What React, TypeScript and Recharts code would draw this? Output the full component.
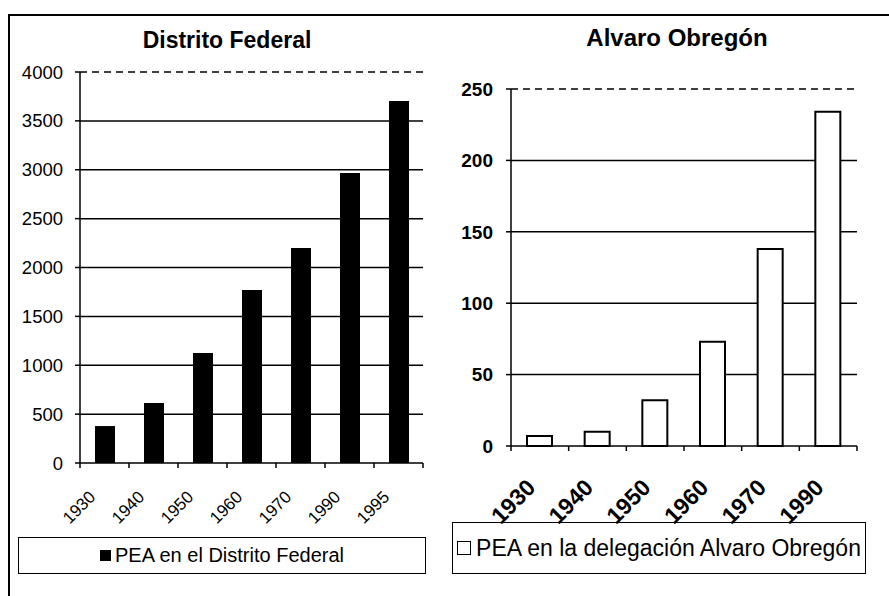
import React from "react";
import {
  BarChart,
  Bar,
  XAxis,
  YAxis,
  CartesianGrid,
  ReferenceLine,
} from "recharts";

// Distrito Federal
const dfYears = ["1930", "1940", "1950", "1960", "1970", "1990", "1995"];
const dfPea = [378, 614, 1125, 1770, 2200, 2967, 3703];
const dfTicks = [0, 500, 1000, 1500, 2000, 2500, 3000, 3500, 4000];

// Alvaro Obregón
const aoYears = ["1930", "1940", "1950", "1960", "1970", "1990"];
const aoPea = [7, 10, 32, 73, 138, 234];
const aoTicks = [0, 50, 100, 150, 200, 250];

const dfData = dfYears.map((year, i) => ({ year, pea: dfPea[i] }));
const aoData = aoYears.map((year, i) => ({ year, pea: aoPea[i] }));

const FONT = "'Liberation Sans', Arial, sans-serif";
const DASH = "7 5";

// rotated year label plus the small tick marks at the category borders
const YearTick = (props: any) => {
  const { x, y, payload, index, half, offX, offY, fsize, bold, lastIndex } = props;
  return (
    <g>
      <line x1={x - half} y1={y} x2={x - half} y2={y + 5} stroke="#000" strokeWidth={1.5} />
      {index === lastIndex && (
        <line x1={x + half} y1={y} x2={x + half} y2={y + 5} stroke="#000" strokeWidth={1.5} />
      )}
      <text
        x={x + offX}
        y={y + offY}
        transform={`rotate(-45 ${x + offX} ${y + offY})`}
        textAnchor="end"
        fontFamily={FONT}
        fontSize={fsize}
        fontWeight={bold ? 700 : 400}
        fill="#000"
      >
        {payload.value}
      </text>
    </g>
  );
};

export default function App() {
  return (
    <div
      style={{
        position: "absolute",
        left: 0,
        top: 0,
        width: 889,
        height: 596,
        background: "#fff",
        fontFamily: FONT,
        overflow: "hidden",
      }}
    >
      {/* page frame */}
      <div style={{ position: "absolute", left: 8, top: 14, width: 881, height: 2, background: "#000" }} />
      <div style={{ position: "absolute", left: 8, top: 14, width: 2, height: 582, background: "#000" }} />

      {/* titles */}
      <div
        style={{
          position: "absolute",
          left: 77,
          top: 27,
          width: 300,
          textAlign: "center",
          fontWeight: 700,
          fontSize: 23,
        }}
      >
        Distrito Federal
      </div>
      <div
        style={{
          position: "absolute",
          left: 527,
          top: 24,
          width: 300,
          textAlign: "center",
          fontWeight: 700,
          fontSize: 24,
        }}
      >
        Alvaro Obregón
      </div>

      {/* Distrito Federal */}
      <div style={{ position: "absolute", left: 0, top: 0 }}>
        <BarChart
          width={440}
          height={596}
          data={dfData}
          margin={{ top: 72, right: 17, left: 20, bottom: 73 }}
          barCategoryGap={0}
        >
          <CartesianGrid
            vertical={false}
            stroke="#000"
            strokeWidth={1.5}
            horizontalValues={[500, 1000, 1500, 2000, 2500, 3000, 3500]}
          />
          <XAxis
            dataKey="year"
            height={60}
            axisLine={{ stroke: "#000", strokeWidth: 1.5 }}
            tickLine={false}
            tickSize={0}
            tickMargin={0}
            interval={0}
            tick={(p: any) => (
              <YearTick
                {...p}
                half={343 / dfYears.length / 2}
                offX={-8}
                offY={35}
                fsize={17}
                lastIndex={dfYears.length - 1}
              />
            )}
          />
          <YAxis
            width={60}
            domain={[0, 4000]}
            ticks={dfTicks}
            interval={0}
            axisLine={{ stroke: "#000", strokeWidth: 1.5 }}
            tickLine={{ stroke: "#000", strokeWidth: 1.5 }}
            tickSize={5}
            tickMargin={12}
            tick={{ fill: "#000", fontSize: 18.5, fontFamily: FONT }}
          />
          <YAxis
            yAxisId="frame"
            orientation="right"
            width={0}
            tick={false}
            tickLine={false}
            axisLine={{ stroke: "#000", strokeWidth: 1.5, strokeDasharray: DASH }}
          />
          <ReferenceLine y={4000} stroke="#000" strokeWidth={1.5} strokeDasharray={DASH} />
          <Bar dataKey="pea" fill="#000" barSize={20} isAnimationActive={false} />
        </BarChart>
      </div>

      {/* Alvaro Obregón */}
      <div style={{ position: "absolute", left: 440, top: 0 }}>
        <BarChart
          width={449}
          height={596}
          data={aoData}
          margin={{ top: 89, right: 32, left: 11, bottom: 90 }}
          barCategoryGap={0}
        >
          <CartesianGrid
            vertical={false}
            stroke="#000"
            strokeWidth={1.5}
            horizontalValues={[50, 100, 150, 200]}
          />
          <XAxis
            dataKey="year"
            height={60}
            axisLine={{ stroke: "#000", strokeWidth: 1.5 }}
            tickLine={false}
            tickSize={0}
            tickMargin={0}
            interval={0}
            tick={(p: any) => (
              <YearTick
                {...p}
                half={346 / aoYears.length / 2}
                offX={-3}
                offY={43}
                fsize={23}
                bold
                lastIndex={aoYears.length - 1}
              />
            )}
          />
          <YAxis
            width={60}
            domain={[0, 250]}
            ticks={aoTicks}
            interval={0}
            axisLine={{ stroke: "#000", strokeWidth: 1.5 }}
            tickLine={{ stroke: "#000", strokeWidth: 1.5 }}
            tickSize={5}
            tickMargin={13}
            tick={{ fill: "#000", fontSize: 19, fontWeight: 700, fontFamily: FONT }}
          />
          <YAxis
            yAxisId="frame"
            orientation="right"
            width={0}
            tick={false}
            tickLine={false}
            axisLine={{ stroke: "#000", strokeWidth: 1.5, strokeDasharray: DASH }}
          />
          <ReferenceLine y={250} stroke="#000" strokeWidth={1.5} strokeDasharray={DASH} />
          <Bar
            dataKey="pea"
            fill="#fff"
            stroke="#000"
            strokeWidth={2}
            barSize={25}
            isAnimationActive={false}
          />
        </BarChart>
      </div>

      {/* legends */}
      <div
        style={{
          position: "absolute",
          left: 18,
          top: 537,
          width: 406,
          height: 35,
          border: "1.5px solid #000",
          display: "flex",
          alignItems: "center",
          justifyContent: "center",
          fontSize: 20,
        }}
      >
        <span style={{ display: "inline-block", width: 11, height: 11, background: "#000", marginRight: 4 }} />
        PEA en el Distrito Federal
      </div>
      <div
        style={{
          position: "absolute",
          left: 452,
          top: 522,
          width: 412,
          height: 50,
          border: "1.5px solid #000",
          display: "flex",
          alignItems: "center",
          justifyContent: "center",
          fontSize: 23,
          whiteSpace: "nowrap",
        }}
      >
        <span
          style={{
            display: "inline-block",
            width: 12,
            height: 12,
            border: "1.5px solid #000",
            background: "#fff",
            marginRight: 5,
          }}
        />
        PEA en la delegación Alvaro Obregón
      </div>
    </div>
  );
}
